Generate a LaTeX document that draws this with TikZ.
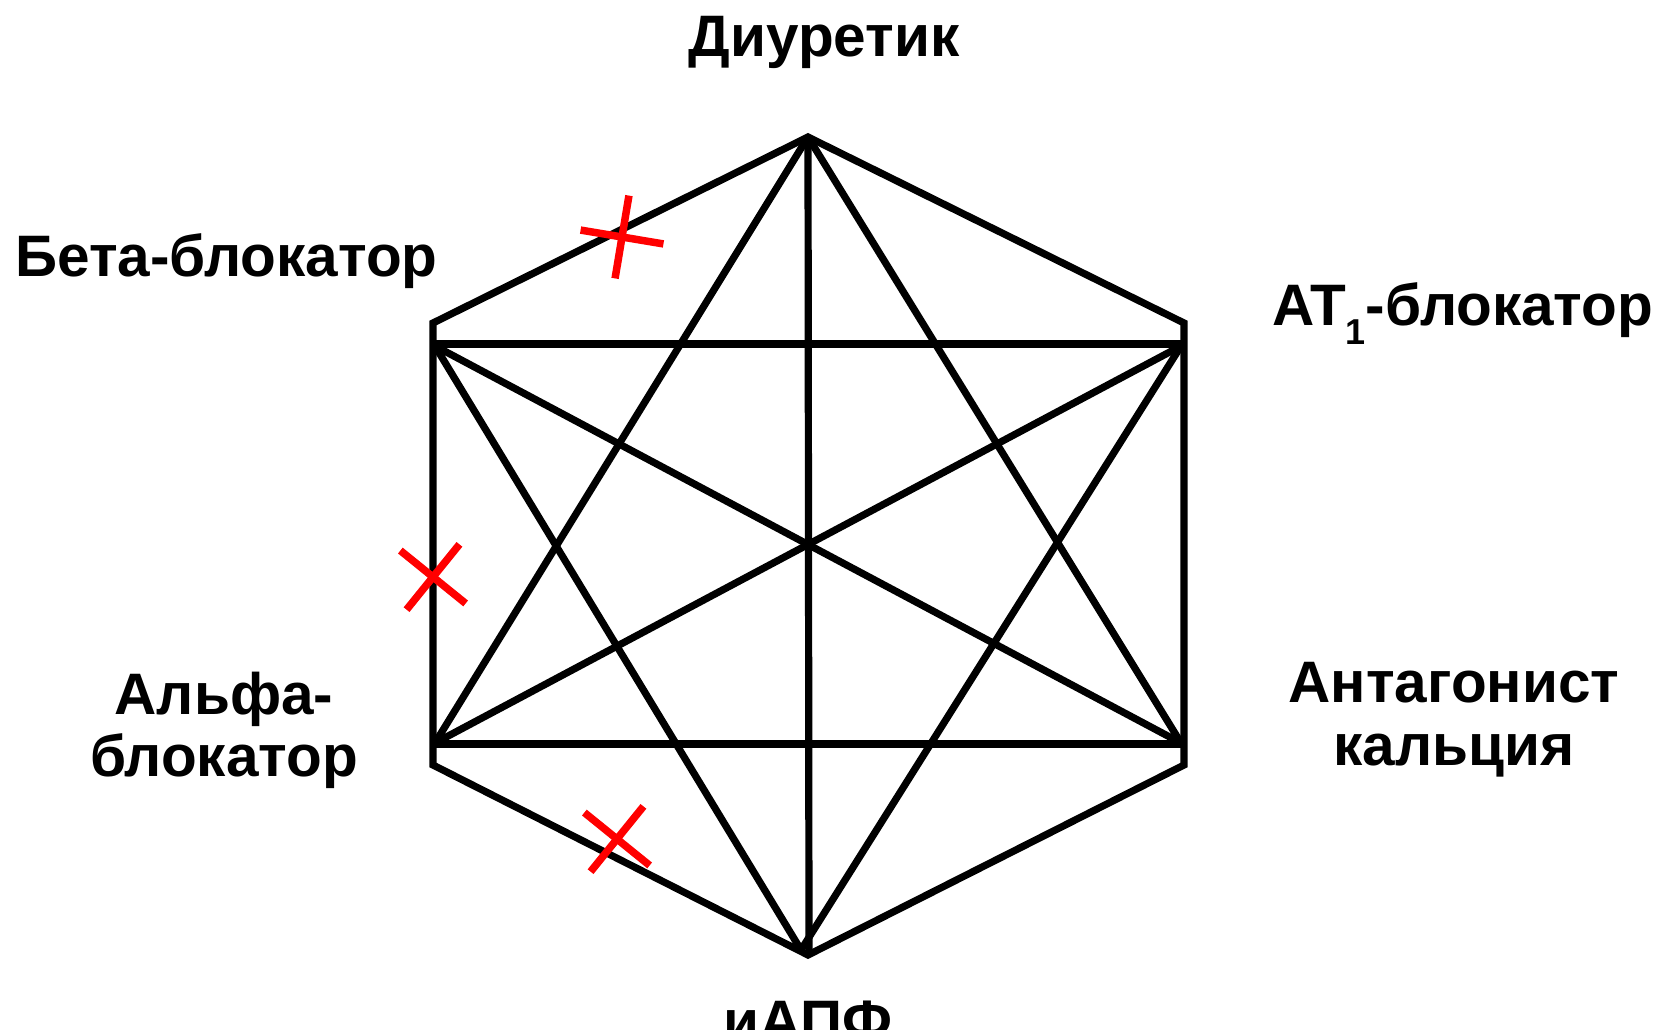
\documentclass[tikz,border=0pt]{standalone}
\usepackage{fontspec}
\setmainfont{Liberation Sans}
\begin{document}
\begin{tikzpicture}[x=1pt,y=-1pt,
  edge/.style={line width=7.2pt,line cap=butt},
  hexline/.style={line width=7.2pt,line join=miter},
  lbl/.style={inner sep=0pt,font=\fontsize{58.5}{62.5}\selectfont\bfseries},
  nomark/.pic={\draw[red,line width=7.5pt] (-42,0) -- (42,0) (0,-42) -- (0,42);}
]
\useasboundingbox (0,0) rectangle (1659,1030);
% hexagon corners
\coordinate (T) at (808,137);
\coordinate (UL) at (433,323);
\coordinate (LL) at (433,765);
\coordinate (Bh) at (808,955);
\coordinate (LR) at (1184,765);
\coordinate (UR) at (1184,323);
% star points
\coordinate (A) at (435,346);
\coordinate (E) at (1181,346);
\coordinate (Bp) at (435,743);
\coordinate (D) at (1181,743);
\coordinate (S) at (801,950);
\coordinate (V) at (809,951);
\coordinate (Ah) at (433,344);
\coordinate (Eh) at (1184,344);
\coordinate (Bh1) at (433,744);
\coordinate (Dh) at (1184,744);
% outer hexagon
\draw[hexline] (T) -- (UL) -- (LL) -- (Bh) -- (LR) -- (UR) -- cycle;
% horizontals
\draw[edge] (Ah) -- (Eh);
\draw[edge] (Bh1) -- (Dh);
% vertical
\draw[edge] (T) -- (V);
% star lines
\draw[edge] (T) -- (Bp);
\draw[edge] (T) -- (D);
\draw[edge] (A) -- (D);
\draw[edge] (E) -- (Bp);
\draw[edge] (A) -- (S);
\draw[edge] (E) -- (S);
% red crosses
\pic[rotate=-9.5] at (622,237) {nomark};
\pic[rotate=-39] at (433,577) {nomark};
\pic[rotate=-39] at (617,839) {nomark};
% labels
\node[lbl,anchor=base] (diur) at (824,56.7) {Диуретик};
\node[lbl,anchor=base west] (beta) at (15,276) {Бета-блокатор};
\node[lbl,anchor=base west] (at1) at (1272,325.7) {AT\raisebox{-19pt}{\fontsize{36}{36}\selectfont 1}-блокатор};
\node[lbl,anchor=base,align=center] (alpha) at (224,776.7) {Альфа-\\блокатор};
\node[lbl,anchor=base,align=center] (ca) at (1454,765) {Антагонист\\кальция};
\node[lbl,anchor=base] (iapf) at (808,1041) {иАПФ};
\end{tikzpicture}
\end{document}
